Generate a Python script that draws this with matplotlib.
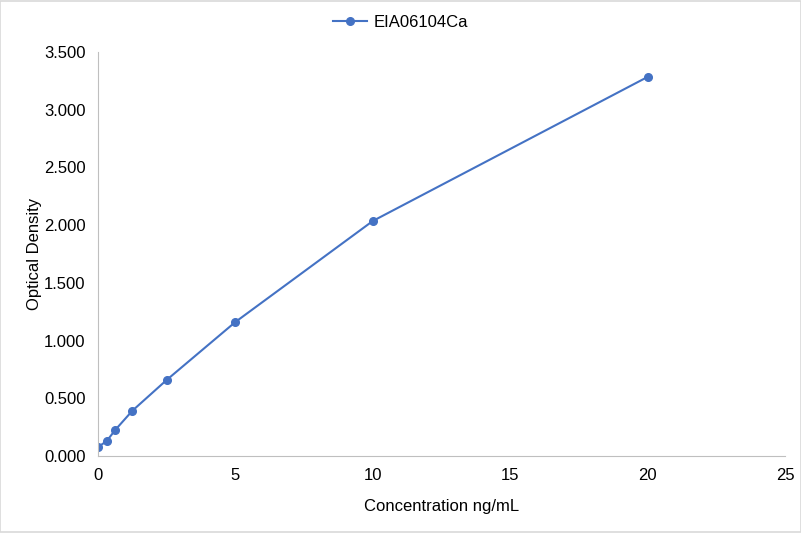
import matplotlib.pyplot as plt
from matplotlib.patches import Rectangle

# standard curve values
conc = [0, 0.3125, 0.625, 1.25, 2.5, 5, 10, 20]
od = [0.078, 0.128, 0.225, 0.392, 0.659, 1.161, 2.036, 3.284]

plt.rcParams['font.family'] = ['Liberation Sans', 'DejaVu Sans']

fig = plt.figure(figsize=(8.01, 5.33), dpi=100)
ax = fig.add_axes([98 / 801, 1 - 456 / 533, (785 - 98) / 801, (456 - 52) / 533])

ax.plot(conc, od, color='#4472C4', linewidth=1.5, marker='o', markersize=5.5,
        label='EIA06104Ca')

ax.set_xlim(0, 25)
ax.set_ylim(0, 3.5)
ax.set_xticks([0, 5, 10, 15, 20, 25])
ax.set_yticks([0, 0.5, 1.0, 1.5, 2.0, 2.5, 3.0, 3.5])
ax.set_yticklabels([f'{v:.3f}' for v in ax.get_yticks()])

for side in ['top', 'right']:
    ax.spines[side].set_visible(False)
for side in ['left', 'bottom']:
    ax.spines[side].set_color('#BFBFBF')
ax.tick_params(length=0, labelsize=12, pad=9)

ax.set_xlabel('Concentration ng/mL', fontsize=12, labelpad=11)
ax.set_ylabel('Optical Density', fontsize=12, labelpad=1)

# legend is centred on the figure, not on the axes
fig.legend(loc='center', bbox_to_anchor=(0.5, 1 - 22 / 533), frameon=False,
           fontsize=12, handlelength=2.0, handletextpad=0.4)

# thin chart-area border like the spreadsheet export
fig.patches.append(Rectangle((0.0006, 0.001), 0.9988, 0.998, transform=fig.transFigure,
                             fill=False, edgecolor='#D9D9D9', linewidth=1.2))

fig.savefig('out.png', dpi=100)
